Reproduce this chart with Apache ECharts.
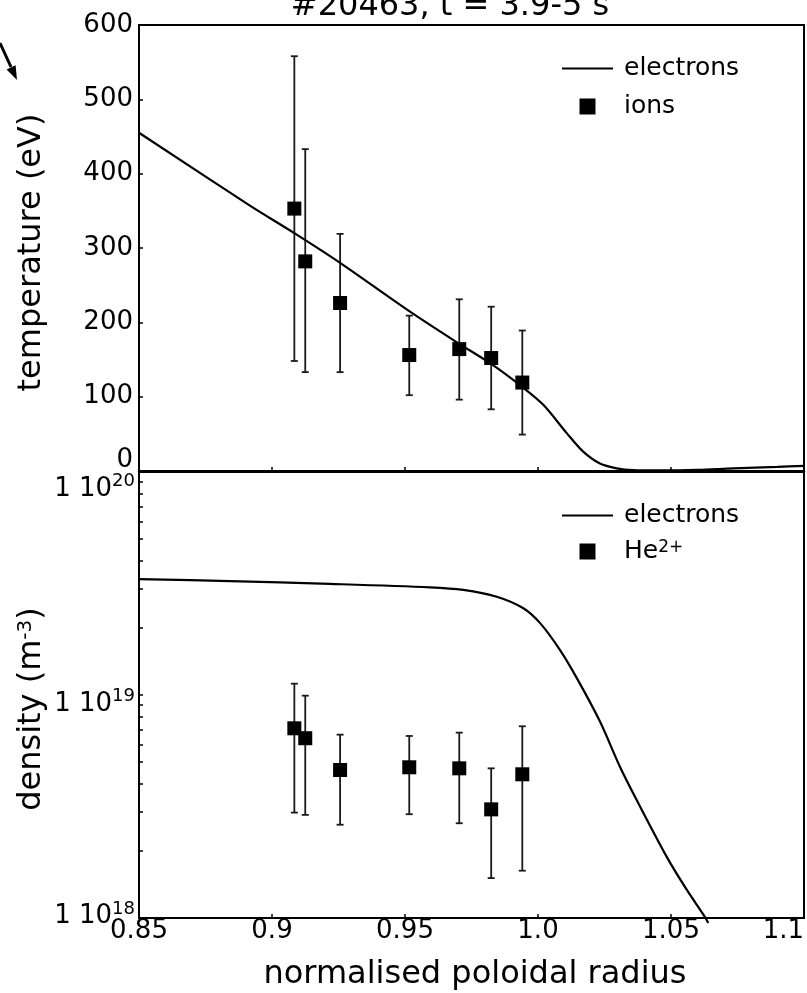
<!DOCTYPE html>
<html><head><meta charset="utf-8">
<script src="https://cdn.jsdelivr.net/npm/echarts@6/dist/echarts.min.js"></script>
<style>html,body{margin:0;padding:0;background:#fff}#c{width:807px;height:993px}</style>
</head><body><div id="c"></div>
<script>
// ---- tick labels ----
const xTickLabels = ['0.85', '0.9', '0.95', '1.0', '1.05', '1.1'];
const tempTickLabels = ['0', '100', '200', '300', '400', '500', '600'];
const densityMantissa = '1 10';
const densityExponents = ['18', '19', '20'];
const densityTickValues = [1e18, 2e18, 3e18, 4e18, 5e18, 6e18, 7e18, 8e18, 9e18,
  1e19, 2e19, 3e19, 4e19, 5e19, 6e19, 7e19, 8e19, 9e19, 1e20];

// ---- measured points (ions / He2+) ----
const radiusPoints = [0.9084, 0.9125, 0.9256, 0.9516, 0.9704, 0.9824, 0.9941];
const ionTemp = [353, 282, 226, 156, 164, 152, 119];
const ionTempLow = [148, 133, 133, 102, 96, 83, 49];
const ionTempHigh = [558, 433, 319, 209, 231, 221, 189];
const heDensity = [7.09e18, 6.40e18, 4.61e18, 4.74e18, 4.69e18, 3.07e18, 4.41e18];
const heDensityLow = [2.97e18, 2.90e18, 2.62e18, 2.92e18, 2.66e18, 1.51e18, 1.63e18];
const heDensityHigh = [1.124e19, 9.93e18, 6.64e18, 6.55e18, 6.78e18, 4.69e18, 7.24e18];

// ---- electron profiles ----
const teRadius = [0.85, 0.8917, 0.9084, 0.9256, 0.9516, 0.9704, 0.9824, 0.9941, 1.002, 1.0108, 1.017, 1.0233, 1.0296, 1.0358, 1.045, 1.06, 1.0734, 1.09, 1.1];
const teValues = [455, 357, 320, 280, 215, 171, 144, 113, 89, 51, 26, 10, 3.6, 1.2, 0.8, 1.5, 3.6, 5.5, 7];
const neRadius = [0.85, 0.8842, 0.9218, 0.9594, 0.9719, 0.9845, 0.9945, 1.0008, 1.0083, 1.0146, 1.0233, 1.0308, 1.0371, 1.0484, 1.0559, 1.0628, 1.064];
const neValues = [3.31e19, 3.24e19, 3.15e19, 3.04e19, 2.96e19, 2.76e19, 2.45e19, 2.10e19, 1.59e19, 1.19e19, 7.6e18, 4.77e18, 3.38e18, 1.88e18, 1.34e18, 1.01e18, 0.95e18];

const FONT = 'DejaVu Sans';
const zip2 = (a, b) => a.map((v, i) => [v, b[i]]);
const zip3 = (a, b, c) => a.map((v, i) => [v, b[i], c[i]]);

function errorBar(params, api) {
  const x = api.value(0), lo = api.value(1), hi = api.value(2);
  const pLo = api.coord([x, lo]);
  const pHi = api.coord([x, hi]);
  const hw = 3.5;
  const style = { stroke: '#1a1a1a', lineWidth: 1.8, fill: null };
  return {
    type: 'group', children: [
      { type: 'line', shape: { x1: pLo[0], y1: pLo[1], x2: pHi[0], y2: pHi[1] }, style },
      { type: 'line', shape: { x1: pHi[0] - hw, y1: pHi[1], x2: pHi[0] + hw, y2: pHi[1] }, style },
      { type: 'line', shape: { x1: pLo[0] - hw, y1: pLo[1], x2: pLo[0] + hw, y2: pLo[1] }, style }
    ]
  };
}

const tick = { show: true, inside: true, length: 4, lineStyle: { color: '#000', width: 1.5 } };
const xCommon = {
  type: 'value', min: 0.85, max: 1.1, interval: 0.05,
  splitLine: { show: false },
  axisLine: { show: true, onZero: false, lineStyle: { color: '#000', width: 2 } },
  axisTick: tick
};
const squareIcon = 'path://M0,0L10,0L10,10L0,10Z';
const lineIcon = 'path://M0,0L51,0L51,2.2L0,2.2Z';

const chart = echarts.init(document.getElementById('c'), null, { renderer: 'canvas' });
chart.setOption({
  animation: false,
  backgroundColor: '#fff',
  title: {
    text: '#20463, t = 3.9-5 s', left: 450, top: -9, padding: 0,
    textAlign: 'center', textVerticalAlign: 'top',
    textStyle: { fontFamily: FONT, fontSize: 32, fontWeight: 'normal', color: '#000' }
  },
  graphic: [
    { type: 'polyline', shape: { points: [[0, 43], [11, 67]] }, style: { stroke: '#000', lineWidth: 3 } },
    { type: 'polygon', shape: { points: [[17, 80], [15.6, 65.2], [6.6, 69.4]] }, style: { fill: '#000' } }
  ],
  grid: [
    { left: 139, right: 3, top: 25, height: 446, show: true, borderColor: '#000', borderWidth: 2, containLabel: false, outerBoundsMode: 'none' },
    { left: 139, right: 3, top: 472, height: 446, show: true, borderColor: '#000', borderWidth: 2, containLabel: false, outerBoundsMode: 'none' }
  ],
  legend: [
    {
      orient: 'vertical', left: 562, top: 56, padding: 0, itemWidth: 51, itemHeight: 16, itemGap: 13,
      selectedMode: false, symbolKeepAspect: true,
      data: [{ name: 'electrons', icon: lineIcon }, { name: 'ions', icon: squareIcon }],
      textStyle: { fontFamily: FONT, fontSize: 25, color: '#000', padding: [0, 0, 0, 6] }
    },
    {
      orient: 'vertical', left: 562, top: 503, padding: 0, itemWidth: 51, itemHeight: 16, itemGap: 11,
      selectedMode: false, symbolKeepAspect: true,
      data: [{ name: 'electrons', icon: lineIcon }, { name: 'He2+', icon: squareIcon }],
      formatter: n => n === 'He2+' ? 'He{sup|2+}' : n,
      textStyle: {
        fontFamily: FONT, fontSize: 25, color: '#000', padding: [0, 0, 0, 6],
        rich: { sup: { fontFamily: FONT, fontSize: 17, color: '#000', verticalAlign: 'top' } }
      }
    }
  ],
  xAxis: [
    Object.assign({}, xCommon, {
      gridIndex: 0, axisLabel: { show: false },
      axisLine: { show: true, onZero: false, lineStyle: { color: '#000', width: 2.5 } }
    }),
    Object.assign({}, xCommon, {
      gridIndex: 1,
      name: 'normalised poloidal radius', nameLocation: 'middle', nameGap: 41, nameMoveOverlap: false,
      nameTextStyle: { fontFamily: FONT, fontSize: 32, color: '#000', padding: [0, 0, 0, 7] },
      axisLabel: {
        show: true, margin: 0, fontFamily: FONT, fontSize: 26, color: '#000',
        alignMaxLabel: 'right', hideOverlap: false,
        formatter: v => xTickLabels[Math.round((v - 0.85) / 0.05)]
      }
    })
  ],
  yAxis: [
    {
      type: 'value', gridIndex: 0, min: 0, max: 600, interval: 100,
      name: 'temperature (eV)', nameLocation: 'middle', nameGap: 91, nameMoveOverlap: false,
      nameTextStyle: { fontFamily: FONT, fontSize: 32, color: '#000', padding: [0, 9, 0, 0] },
      splitLine: { show: false },
      axisLine: { show: true, lineStyle: { color: '#000', width: 2 } },
      axisTick: tick,
      axisLabel: {
        margin: 6, fontFamily: FONT, fontSize: 26, color: '#000', hideOverlap: false,
        formatter: v => {
          const k = Math.round(v / 100);
          return k === 0 ? '{z|' + tempTickLabels[k] + '}' : tempTickLabels[k];
        },
        rich: { z: { fontFamily: FONT, fontSize: 26, color: '#000', padding: [0, 0, 22, 0] } }
      }
    },
    {
      type: 'log', logBase: 10, gridIndex: 1, min: 1e18, max: 1e20,
      name: '{a|density (m}{s|-3}{a|)}', nameLocation: 'middle', nameGap: 91, nameMoveOverlap: false,
      nameTextStyle: {
        fontFamily: FONT, fontSize: 32, color: '#000', padding: [0, 28, 0, 0],
        rich: {
          a: { fontFamily: FONT, fontSize: 32, color: '#000' },
          s: { fontFamily: FONT, fontSize: 20, color: '#000', verticalAlign: 'top' }
        }
      },
      splitLine: { show: false },
      axisLine: { show: true, lineStyle: { color: '#000', width: 2 } },
      axisTick: { show: false },
      axisLabel: {
        margin: 4, fontFamily: FONT, fontSize: 26, color: '#000', hideOverlap: false,
        formatter: v => {
          const k = Math.round(Math.log10(v)) - 18;
          if (k < 0 || k > 2) return '';
          return '{m' + k + '|' + densityMantissa + '}{s' + k + '|' + densityExponents[k] + '}';
        },
        rich: {
          m0: { fontFamily: FONT, fontSize: 26, color: '#000', lineHeight: 36, padding: [0, 0, 4, 0] },
          s0: { fontFamily: FONT, fontSize: 18, color: '#000', verticalAlign: 'top', padding: [0, 0, 0, 0] },
          m1: { fontFamily: FONT, fontSize: 26, color: '#000', lineHeight: 36, padding: [18, 0, 0, 0] },
          s1: { fontFamily: FONT, fontSize: 18, color: '#000', verticalAlign: 'top', padding: [10, 0, 0, 0] },
          m2: { fontFamily: FONT, fontSize: 26, color: '#000', lineHeight: 36, padding: [34, 0, 0, 0] },
          s2: { fontFamily: FONT, fontSize: 18, color: '#000', verticalAlign: 'top', padding: [18, 0, 0, 0] }
        }
      }
    },
    {
      type: 'value', gridIndex: 1, min: 18, max: 20, position: 'left', offset: 0,
      splitLine: { show: false },
      axisLine: { show: false },
      axisLabel: { show: false },
      axisTick: Object.assign({}, tick, { customValues: densityTickValues.map(v => Math.log10(v)) })
    }
  ],
  series: [
    {
      name: 'electrons', type: 'line', xAxisIndex: 0, yAxisIndex: 0, z: 2,
      data: zip2(teRadius, teValues), symbol: 'none', smooth: 0.3,
      lineStyle: { color: '#000', width: 2.2 }, itemStyle: { color: '#000' }
    },
    {
      name: 'ionErr', type: 'custom', xAxisIndex: 0, yAxisIndex: 0, z: 1,
      renderItem: errorBar, encode: { x: 0, y: [1, 2] },
      data: zip3(radiusPoints, ionTempLow, ionTempHigh)
    },
    {
      name: 'ions', type: 'scatter', xAxisIndex: 0, yAxisIndex: 0, z: 3,
      symbol: 'rect', symbolSize: 14, itemStyle: { color: '#000', opacity: 1 },
      data: zip2(radiusPoints, ionTemp)
    },
    {
      name: 'electrons', type: 'line', xAxisIndex: 1, yAxisIndex: 1, z: 2, clip: false,
      data: zip2(neRadius, neValues), symbol: 'none', smooth: 0.3,
      lineStyle: { color: '#000', width: 2.2 }, itemStyle: { color: '#000' }
    },
    {
      name: 'heErr', type: 'custom', xAxisIndex: 1, yAxisIndex: 1, z: 1,
      renderItem: errorBar, encode: { x: 0, y: [1, 2] },
      data: zip3(radiusPoints, heDensityLow, heDensityHigh)
    },
    {
      name: 'He2+', type: 'scatter', xAxisIndex: 1, yAxisIndex: 1, z: 3,
      symbol: 'rect', symbolSize: 14, itemStyle: { color: '#000', opacity: 1 },
      data: zip2(radiusPoints, heDensity)
    }
  ]
});
</script>
</body></html>
